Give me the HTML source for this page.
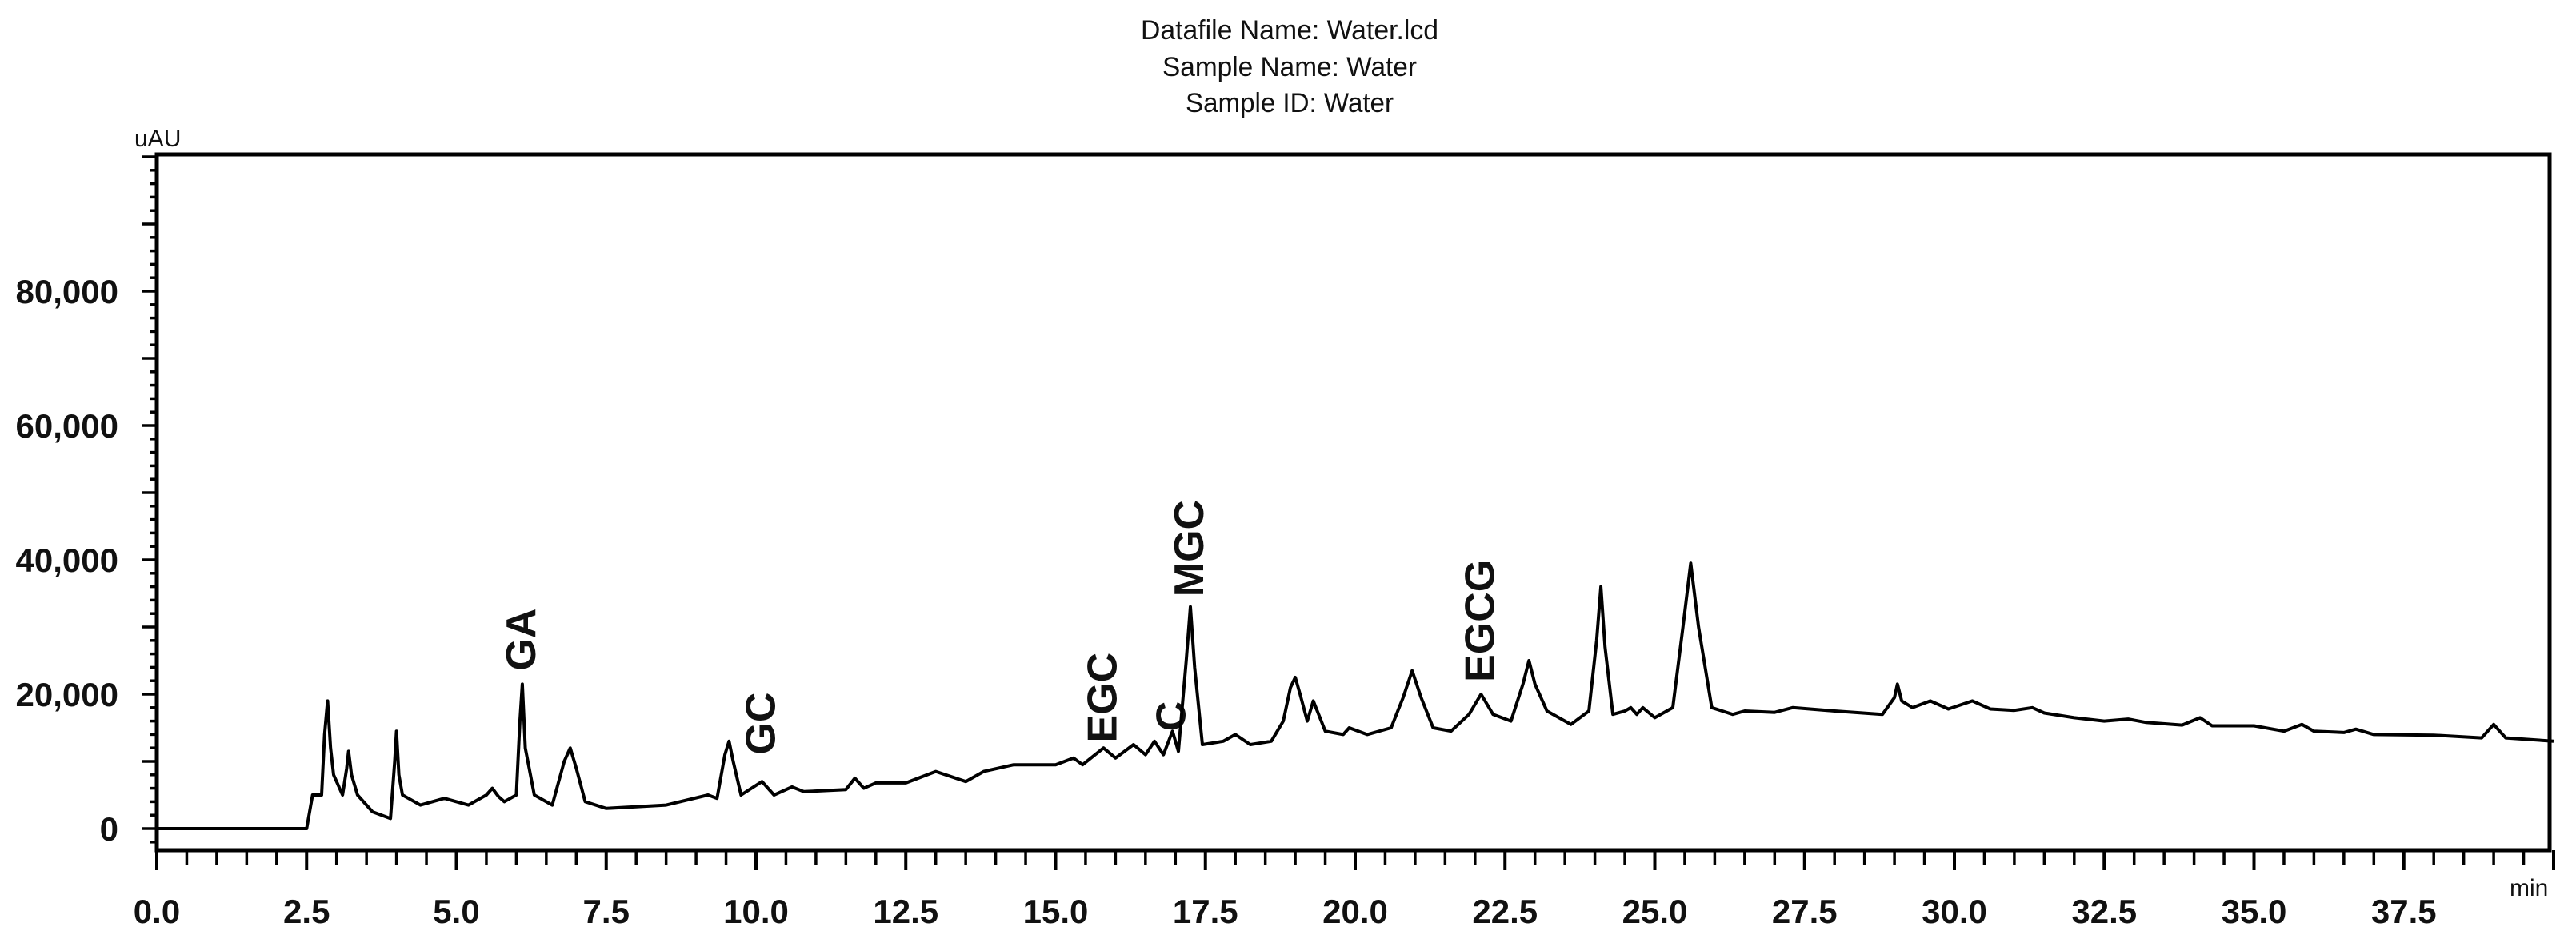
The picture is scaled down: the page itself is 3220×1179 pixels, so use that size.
<!DOCTYPE html>
<html><head><meta charset="utf-8"><style>
html,body{margin:0;padding:0;background:#fff;}
svg{display:block;}
text{font-family:"Liberation Sans",Arial,sans-serif;fill:#111;}
</style></head><body>
<svg id="chart" width="3220" height="1179" viewBox="0 0 3220 1179" xmlns="http://www.w3.org/2000/svg">
<g>
<text x="1612" y="49" font-size="34" text-anchor="middle" textLength="372" lengthAdjust="spacingAndGlyphs">Datafile Name: Water.lcd</text>
<text x="1612" y="95" font-size="34" text-anchor="middle" textLength="318" lengthAdjust="spacingAndGlyphs">Sample Name: Water</text>
<text x="1612" y="140" font-size="34" text-anchor="middle" textLength="260" lengthAdjust="spacingAndGlyphs">Sample ID: Water</text>
</g>
<text x="168" y="183" font-size="30">uAU</text>
<text x="3137" y="1120" font-size="30">min</text>
<g id="axes"></g>
<g id="labels"></g>
<path id="trace" fill="none" stroke="#000" stroke-width="4" stroke-linejoin="round"/>
<rect x="196" y="193" width="2991" height="870" fill="none" stroke="#000" stroke-width="5"/>
</svg>
<script>
const times = [0,2.5,2.6,2.75,2.8,2.85,2.9,2.95,3.1,3.17,3.2,3.25,3.35,3.6,3.9,3.97,4.0,4.04,4.1,4.4,4.8,5.2,5.5,5.6,5.7,5.8,6.0,6.06,6.1,6.15,6.3,6.6,6.8,6.9,7.0,7.15,7.5,8.5,9.2,9.35,9.48,9.55,9.62,9.75,10.1,10.3,10.6,10.8,11.5,11.65,11.8,12.0,12.5,13.0,13.5,13.8,14.3,15.0,15.3,15.45,15.8,16.0,16.3,16.5,16.65,16.8,16.95,17.05,17.18,17.25,17.32,17.45,17.8,18.0,18.25,18.6,18.8,18.92,19.0,19.08,19.2,19.3,19.5,19.8,19.9,20.2,20.6,20.8,20.95,21.1,21.3,21.6,21.9,22.1,22.3,22.6,22.8,22.9,23.0,23.2,23.6,23.9,24.03,24.1,24.17,24.3,24.5,24.6,24.7,24.8,25.0,25.3,25.47,25.6,25.73,25.95,26.3,26.5,27.0,27.3,28.0,28.8,29.0,29.05,29.12,29.3,29.6,29.9,30.3,30.6,31.0,31.3,31.5,32.0,32.5,32.9,33.2,33.8,34.1,34.3,35.0,35.5,35.8,36.0,36.5,36.7,37.0,38.0,38.8,39.0,39.2,40.0];
const signal = [0,0,5000,5000,14000,19000,12000,8000,5000,9000,11500,8000,5000,2500,1500,10000,14500,8000,5000,3500,4500,3500,5000,6000,4800,4000,5000,16000,21500,12000,5000,3500,10000,12000,9000,4000,3000,3500,5000,4500,11000,13000,10000,5000,7000,5000,6200,5500,5800,7500,6000,6800,6800,8500,7000,8500,9500,9500,10500,9500,12000,10500,12500,11000,13000,11000,14500,11500,25000,33000,24000,12500,13000,14000,12500,13000,16000,21000,22500,20000,16000,19000,14500,14000,15000,14000,15000,19500,23500,19500,15000,14500,17000,20000,17000,16000,21500,25000,21500,17500,15500,17500,28000,36000,27000,17000,17500,18000,17000,18000,16500,18000,30000,39500,30000,18000,17000,17500,17300,18000,17500,17000,19500,21500,19000,18000,19000,17800,19000,17800,17600,18000,17200,16500,16000,16300,15800,15400,16500,15300,15300,14500,15500,14500,14300,14800,14000,13900,13500,15500,13500,13000];
const xTickLabels = ["0.0","2.5","5.0","7.5","10.0","12.5","15.0","17.5","20.0","22.5","25.0","27.5","30.0","32.5","35.0","37.5"];
const yTickLabels = ["0","20,000","40,000","60,000","80,000"];
const peakNames = ["GA","GC","EGC","C","MGC","EGCG"];
const peakTimes = [6.1,10.1,15.8,16.95,17.25,22.1];
const peakLabelValues = [23500,11000,12800,14500,34500,21800];

const NS="http://www.w3.org/2000/svg";
const X0=196, PXMIN=74.9, Y0=1036, PXPER=168/20000;
function xs(t){return X0+t*PXMIN;}
function ys(v){return Y0-v*PXPER;}
function mk(tag,attrs,parent){const e=document.createElementNS(NS,tag);for(const k in attrs)e.setAttribute(k,attrs[k]);parent.appendChild(e);return e;}

const axes=document.getElementById('axes');
for(let i=0;i<=80;i++){
  const t=i*0.5, x=xs(t), major=(i%5===0);
  const l=mk('line',{x1:x,y1:1063,x2:x,y2:major?1088:1081,stroke:'#000','stroke-width':major?4:3.5},axes);
  
  
}
xTickLabels.forEach((s,i)=>{
  const t=i*2.5;
  const tx=mk('text',{x:xs(t),y:1154,'font-size':42,'font-weight':'bold','text-anchor':'middle'},axes);
  tx.textContent=s;
  
  
});
for(let v=-2000;v<=100000;v+=2000){
  const y=ys(v), major=(v%10000===0);
  const l=mk('line',{x1:major?177:187,y1:y,x2:196,y2:y,stroke:'#000','stroke-width':3.5},axes);
  
  
}
yTickLabels.forEach((s,i)=>{
  const tx=mk('text',{x:148,y:ys(i*20000)+15,'font-size':42,'font-weight':'bold','text-anchor':'end'},axes);
  tx.textContent=s;
  
  
});
let d='';
times.forEach((t,i)=>{d+=(i?'L':'M')+xs(t).toFixed(1)+' '+ys(signal[i]).toFixed(1);});
document.getElementById('trace').setAttribute('d',d);
const lab=document.getElementById('labels');
peakNames.forEach((n,i)=>{
  const x=xs(peakTimes[i])+16, y=ys(peakLabelValues[i]);
  const tx=mk('text',{x:x,y:y,'font-size':52,'font-weight':'bold',transform:'rotate(-90 '+x+' '+y+')'},lab);
  tx.textContent=n;
  
  
});
</script>
</body></html>
